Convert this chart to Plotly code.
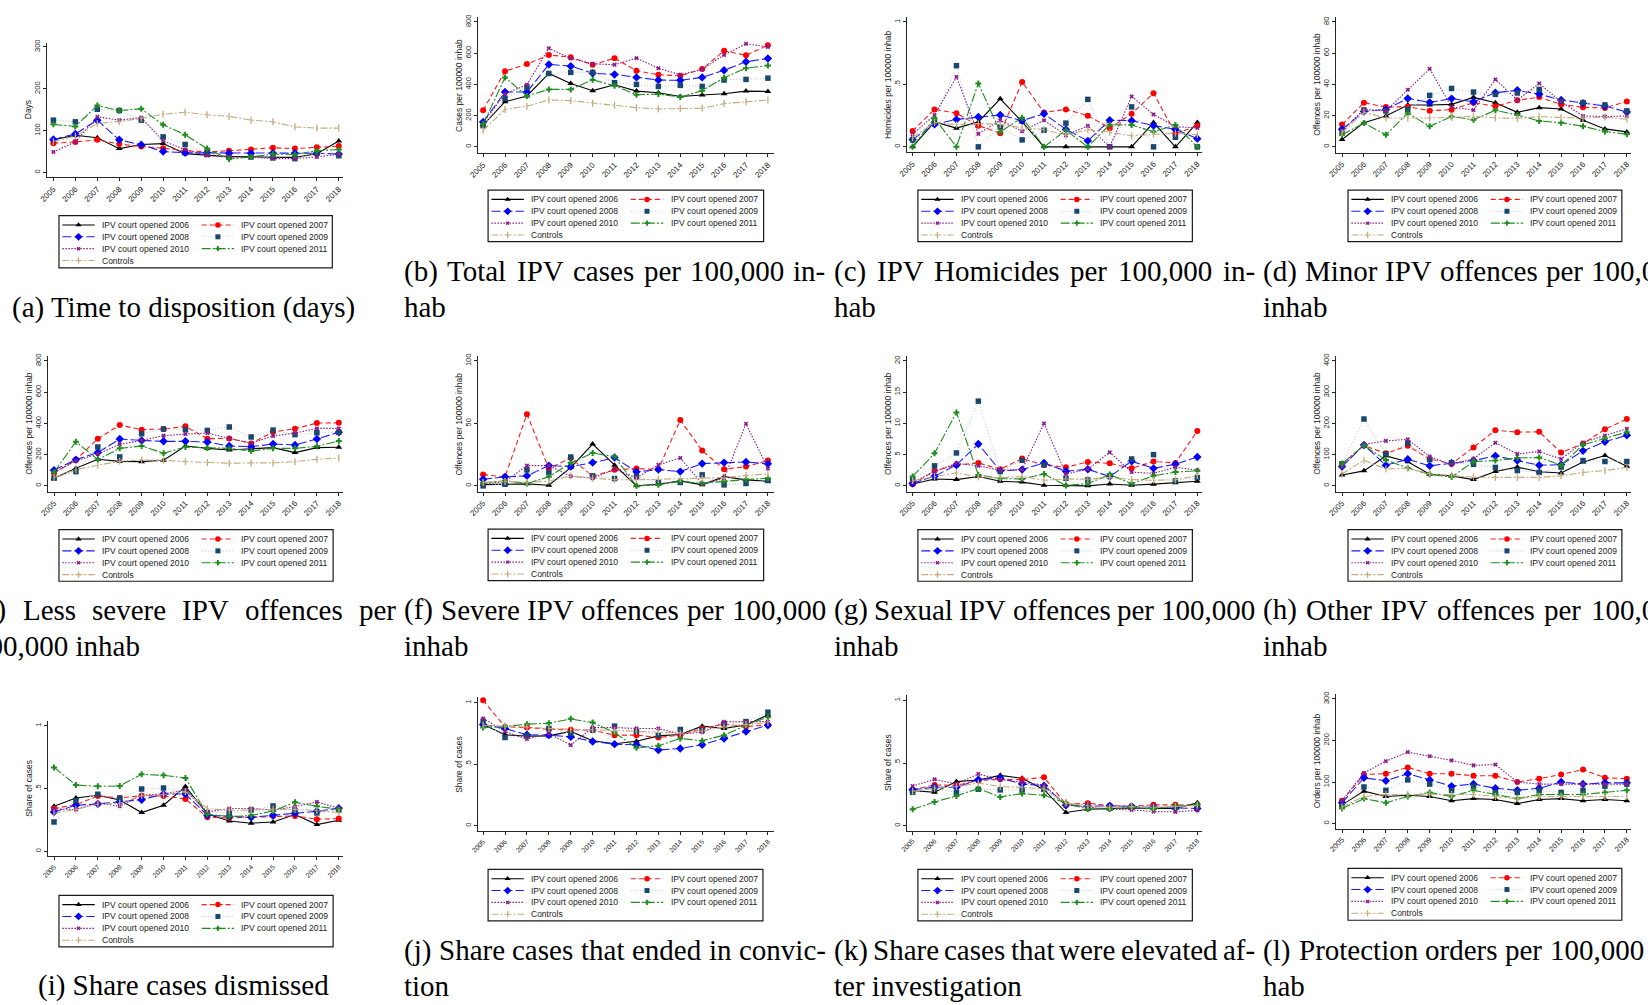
import plotly.graph_objects as go

W, H = 1648, 1005
XOFF = -8.0  # horizontal page offset correction

YEARS = list(range(2005, 2019))
YEAR_LABELS = [str(y) for y in YEARS]
SERIES = ["IPV court opened 2006", "IPV court opened 2007", "IPV court opened 2008",
          "IPV court opened 2009", "IPV court opened 2010", "IPV court opened 2011",
          "Controls"]

# (a) Time to disposition (days)
days_06 = [78, 89, 83, 57, 67, 69, 45, 41, 38, 38, 36, 36, 45, 75]
days_07 = [70, 73, 78, 68, 62, 58, 52, 49, 52, 55, 59, 57, 60, 63]
days_08 = [79, 92, 125, 78, 66, 50, 47, 47, 46, 46, 46, 46, 46, 44]
days_09 = [125, 121, 151, 148, 125, 85, 67, 46, 36, 37, 35, 33, 46, 40]
days_10 = [49, 73, 133, 125, 131, 75, 55, 40, 37, 37, 33, 33, 37, 44]
days_11 = [115, 110, 160, 148, 152, 114, 90, 57, 32, 37, 44, 43, 52, 55]
days_ctl = [74, 87, 117, 122, 129, 139, 144, 138, 134, 125, 121, 109, 106, 106]

# (b) Total IPV cases per 100,000 inhab
cases_06 = [140, 289, 326, 470, 406, 360, 398, 357, 347, 323, 332, 340, 357, 355]
cases_07 = [234, 485, 530, 589, 574, 526, 568, 487, 462, 455, 498, 615, 587, 651]
cases_08 = [160, 351, 351, 528, 517, 472, 464, 445, 428, 426, 445, 491, 545, 566]
cases_09 = [136, 311, 383, 470, 477, 477, 411, 400, 387, 394, 387, 428, 432, 440]
cases_10 = [155, 340, 398, 632, 566, 532, 526, 568, 504, 462, 496, 589, 660, 640]
cases_11 = [145, 445, 326, 368, 368, 430, 391, 334, 338, 319, 360, 443, 504, 521]
cases_ctl = [106, 240, 260, 300, 296, 279, 266, 251, 243, 245, 247, 277, 289, 300]

# (c) IPV homicides per 100,000 inhab
homic_06 = [0, .20, .15, .20, .385, .20, 0, 0, 0, 0, 0, .195, 0, .195]
homic_07 = [.128, .30, .27, .17, .11, .52, .275, .30, .25, .15, .265, .43, .105, .17]
homic_08 = [.06, .18, .22, .24, .255, .21, .265, .14, .048, .213, .21, .17, .14, .066]
homic_09 = [.056, .20, .65, 0, .16, .056, .133, .19, .38, 0, .32, 0, .077, 0]
homic_10 = [.10, .255, .56, .104, .213, .125, .213, .093, .168, 0, .404, .26, .162, .152]
homic_11 = [0, .23, 0, .508, .12, .234, 0, .133, 0, .178, .175, .122, .175, 0]
homic_ctl = [.075, .195, .178, .186, .18, .154, .138, .093, .138, .117, .088, .10, .11, .098]

# (d) Minor IPV offences per 100,000 inhab
minor_06 = [4.7, 15.5, 19.8, 26.8, 26.8, 27.2, 31.7, 28.3, 22.1, 25.1, 24.3, 17.0, 11.5, 9.6]
minor_07 = [14.3, 28.3, 25.5, 25.7, 23.2, 23.8, 28.3, 26.0, 29.8, 31.9, 27.2, 25.3, 24.9, 29.1]
minor_08 = [11.3, 22.6, 24.0, 31.0, 28.5, 30.9, 28.9, 34.7, 36.2, 33.8, 30.0, 27.9, 26.2, 22.3]
minor_09 = [9.1, 23.6, 23.0, 24.0, 33.0, 37.4, 35.1, 33.6, 34.5, 36.8, 29.1, 28.3, 26.8, 23.0]
minor_10 = [10.2, 24.0, 23.0, 36.6, 50.0, 25.5, 23.6, 43.2, 30.0, 40.6, 28.9, 19.8, 19.4, 19.8]
minor_11 = [7.7, 15.3, 7.7, 21.5, 13.2, 19.4, 17.4, 23.4, 20.4, 16.6, 15.5, 13.2, 9.8, 8.1]
minor_ctl = [9.1, 22.1, 18.5, 18.3, 18.5, 18.9, 19.6, 18.5, 18.3, 19.4, 18.7, 18.3, 19.1, 17.7]

# (e) Less severe IPV offences per 100,000 inhab
lesssev_06 = [49, 113, 170, 157, 155, 164, 255, 240, 230, 236, 245, 213, 245, 247]
lesssev_07 = [81, 166, 302, 389, 360, 364, 381, 302, 304, 272, 345, 366, 402, 404]
lesssev_08 = [100, 168, 213, 300, 291, 285, 285, 281, 255, 251, 268, 262, 300, 343]
lesssev_09 = [49, 91, 249, 185, 334, 364, 360, 355, 377, 313, 357, 328, 340, 343]
lesssev_10 = [87, 160, 204, 266, 291, 321, 332, 338, 304, 274, 319, 338, 368, 368]
lesssev_11 = [87, 283, 168, 240, 255, 209, 249, 243, 240, 223, 240, 240, 253, 287]
lesssev_ctl = [53, 104, 132, 157, 166, 164, 155, 149, 145, 147, 147, 155, 170, 179]

# (f) Severe IPV offences per 100,000 inhab
severe_06 = [1.0, 1.3, 1.6, 0.5, 14.6, 33.5, 16.5, 0, 1.3, 4.0, 0.8, 7.4, 4.8, 3.7]
severe_07 = [9.0, 7.2, 57.4, 13.8, 22.3, 7.7, 12.8, 13.8, 13.3, 52.7, 28.2, 13.3, 15.4, 20.2]
severe_08 = [5.3, 7.2, 8.0, 16.2, 15.4, 18.6, 22.6, 11.2, 13.0, 11.4, 17.8, 18.6, 19.1, 17.6]
severe_09 = [0, 1.3, 12.8, 10.6, 23.1, 8.0, 5.9, 7.4, 2.7, 2.7, 8.8, 0.8, 1.9, 4.3]
severe_10 = [1.3, 3.5, 16.2, 16.2, 7.7, 6.1, 13.3, 6.4, 16.8, 22.3, 1.6, 5.9, 49.7, 13.8]
severe_11 = [2.4, 4.0, 1.9, 7.2, 18.4, 26.3, 23.4, 0, 0.8, 3.7, 2.1, 3.7, 5.0, 6.1]
severe_ctl = [2.7, 3.5, 2.9, 3.7, 8.0, 6.1, 5.0, 4.8, 5.3, 5.9, 6.1, 6.6, 8.2, 9.6]

# (g) Sexual IPV offences per 100,000 inhab
sexual_06 = [0.3, 1.1, 1.0, 1.5, 0.74, 0.6, 0.1, 0.1, 0, 0.3, 0.1, 0.27, 0.5, 0.74]
sexual_07 = [0.27, 2.4, 3.35, 3.67, 2.66, 4.36, 3.35, 2.98, 3.83, 3.6, 2.8, 3.9, 3.67, 8.78]
sexual_08 = [0.43, 1.54, 3.35, 6.7, 2.4, 2.6, 3.67, 2.34, 2.66, 1.5, 3.94, 2.8, 3.46, 4.63]
sexual_09 = [0.96, 3.2, 5.27, 13.56, 2.3, 4.1, 3.35, 1.22, 0.96, 1.6, 4.3, 5.0, 0.8, 1.33]
sexual_10 = [0.53, 2.3, 3.6, 3.2, 2.5, 2.6, 10.0, 1.9, 2.66, 5.37, 2.2, 2.0, 3.0, 2.5]
sexual_11 = [1.5, 5.2, 11.75, 1.75, 1.17, 1.1, 1.9, 0.05, 0.37, 1.8, 0.37, 1.6, 2.2, 2.4]
sexual_ctl = [0.85, 1.5, 2.1, 1.4, 1.3, 1.5, 0.9, 1.1, 1.06, 1.33, 1.0, 0.9, 0.96, 1.65]

# (h) Other IPV offences per 100,000 inhab
other_06 = [35, 48, 96, 77, 37, 32, 20, 46, 60, 45, 41, 76, 97, 63]
other_07 = [71, 129, 104, 128, 86, 71, 123, 178, 172, 173, 107, 135, 181, 214]
other_08 = [62, 131, 66, 85, 64, 73, 81, 96, 81, 66, 68, 112, 141, 162]
other_09 = [70, 214, 102, 137, 84, 74, 69, 59, 49, 43, 60, 81, 78, 78]
other_10 = [60, 133, 144, 149, 94, 68, 87, 138, 102, 110, 86, 139, 161, 183]
other_11 = [71, 129, 83, 57, 37, 28, 78, 81, 89, 91, 66, 131, 152, 172]
other_ctl = [38, 82, 54, 56, 38, 34, 28, 27, 27, 27, 32, 43, 49, 59]

# (i) Share of cases dismissed
dismissed_06 = [.358, .424, .446, .408, .308, .366, .515, .297, .241, .223, .233, .292, .212, .247]
dismissed_07 = [.34, .371, .44, .424, .443, .44, .416, .27, .265, .27, .281, .281, .255, .26]
dismissed_08 = [.313, .366, .377, .395, .411, .456, .456, .286, .276, .27, .286, .302, .318, .342]
dismissed_09 = [.233, .403, .454, .424, .496, .504, .477, .308, .308, .329, .361, .324, .305, .329]
dismissed_10 = [.337, .332, .385, .358, .448, .456, .488, .313, .34, .34, .329, .355, .393, .342]
dismissed_11 = [.668, .528, .517, .52, .613, .605, .584, .294, .276, .284, .321, .39, .358, .334]
dismissed_ctl = [.302, .334, .374, .382, .443, .451, .475, .34, .326, .329, .334, .334, .324, .308]

# (j) Share of cases that ended in conviction
convicted_06 = [.822, .739, .728, .73, .766, .69, .666, .687, .73, .741, .809, .79, .819, .90]
convicted_07 = [1.019, .803, .798, .784, .779, .776, .736, .736, .717, .736, .79, .825, .806, .819]
convicted_08 = [.822, .79, .739, .736, .722, .685, .663, .658, .615, .628, .658, .709, .766, .817]
convicted_09 = [.849, .717, .73, .79, .749, .779, .809, .768, .733, .782, .776, .83, .846, .922]
convicted_10 = [.871, .766, .704, .749, .655, .798, .798, .79, .79, .744, .76, .844, .846, .846]
convicted_11 = [.798, .806, .825, .833, .868, .838, .757, .633, .65, .709, .69, .736, .814, .884]
convicted_ctl = [.817, .811, .801, .79, .782, .779, .774, .766, .763, .752, .768, .803, .822, .838]

# (k) Share of cases elevated after investigation
elevated_06 = [.28, .267, .352, .365, .402, .378, .288, .106, .132, .135, .143, .138, .138, .183]
elevated_07 = [.288, .325, .323, .36, .37, .368, .386, .172, .18, .161, .156, .167, .167, .161]
elevated_08 = [.288, .307, .307, .368, .381, .333, .32, .164, .156, .159, .153, .148, .143, .138]
elevated_09 = [.267, .296, .267, .291, .286, .286, .291, .169, .153, .148, .148, .148, .148, .159]
elevated_10 = [.317, .37, .333, .413, .368, .347, .325, .167, .148, .132, .127, .114, .111, .124]
elevated_11 = [.132, .19, .238, .296, .23, .257, .243, .183, .132, .135, .148, .135, .159, .169]
elevated_ctl = [.275, .299, .312, .341, .312, .307, .294, .183, .159, .148, .153, .148, .153, .164]

# (l) Protection orders per 100,000 inhab
orders_06 = [45, 78, 65, 68, 65, 55, 60, 58, 48, 58, 60, 55, 58, 55]
orders_07 = [55, 118, 120, 135, 120, 120, 115, 115, 100, 108, 118, 130, 110, 108]
orders_08 = [50, 110, 103, 120, 105, 90, 95, 85, 80, 85, 100, 95, 98, 98]
orders_09 = [42, 88, 80, 105, 95, 80, 90, 75, 75, 80, 75, 80, 90, 95]
orders_10 = [55, 122, 150, 172, 162, 152, 140, 142, 100, 95, 95, 95, 95, 95]
orders_11 = [36, 60, 50, 65, 75, 65, 80, 70, 60, 70, 70, 70, 75, 80]
orders_ctl = [40, 65, 70, 70, 70, 70, 70, 65, 60, 65, 65, 65, 65, 65]

# Line / marker style of each series (same order as SERIES)
STYLES = [
    dict(line="#000000", mark="#000000", dash="solid", symbol="triangle-up", size=6),
    dict(line="#ff1a1a", mark="#ff0000", dash="5px,3px", symbol="circle", size=6),
    dict(line="#1a1aff", mark="#0000ff", dash="9px,3px", symbol="diamond", size=6.5),
    dict(line="#bccbe0", mark="#1a476f", dash="1px,2px", symbol="square", size=5.5),
    dict(line="#8b1a8b", mark="#8b1a8b", dash="1.5px,1.5px", symbol="x", size=4),
    dict(line="#1e8c1e", mark="#1e8c1e", dash="9px,2px,2px,2px", symbol="cross", size=5),
    dict(line="#c4ab7c", mark="#c4ab7c", dash="7px,2px,2px,2px", symbol="line-ns", size=5),
]

HALF = [0, .5, 1]
HALF_TXT = ["0", ".5", "1"]

# Panel definitions: data, axis title, ticks, caption lines, and pixel geometry
# geometry: y-axis x, 2005 x, 2018 x, right end, axis top, top-tick y, zero y, x-axis y
# legend box: x0, y0, x1, y1
PANELS = [
    dict(data=[days_06, days_07, days_08, days_09, days_10, days_11, days_ctl],
         ytitle="Days", yt=[0, 100, 200, 300], ytt=None, ymax=300,
         geo=(45.7, 51.7, 339, 343, 40, 44, 170, 175), leg=(57.3, 213.3, 332.5, 265.7),
         col=0, row=0, cap=["(a) Time to disposition (days)"], xfs=8),
    dict(data=[cases_06, cases_07, cases_08, cases_09, cases_10, cases_11, cases_ctl],
         ytitle="Cases per 100000 inhab", yt=[0, 200, 400, 600, 800], ytt=None, ymax=800,
         geo=(479.3, 484.3, 771, 776.7, 14, 19, 144.3, 150.7), leg=(489.3, 187.7, 766.7, 239.3),
         col=1, row=0, cap=["(b) Total IPV cases per 100,000 in-", "hab"], xfs=8),
    dict(data=[homic_06, homic_07, homic_08, homic_09, homic_10, homic_11, homic_ctl],
         ytitle="Homicides per 100000 inhab", yt=HALF, ytt=HALF_TXT, ymax=1,
         geo=(910.7, 916.7, 1203.3, 1208.3, 14, 19, 144.3, 149.7), leg=(922, 187.7, 1198.3, 239.3),
         col=2, row=0, cap=["(c) IPV Homicides per 100,000 in-", "hab"], xfs=8),
    dict(data=[minor_06, minor_07, minor_08, minor_09, minor_10, minor_11, minor_ctl],
         ytitle="Offences per 100000 inhab", yt=[0, 20, 40, 60, 80], ytt=None, ymax=80,
         geo=(1343.3, 1349, 1635.7, 1640, 14, 19, 144.3, 150), leg=(1355, 187.7, 1630.7, 239.3),
         col=3, row=0, cap=["(d) Minor IPV offences per 100,000", "inhab"], xfs=8),
    dict(data=[lesssev_06, lesssev_07, lesssev_08, lesssev_09, lesssev_10, lesssev_11, lesssev_ctl],
         ytitle="Offences per 100000 inhab", yt=[0, 200, 400, 600, 800], ytt=None, ymax=800,
         geo=(46.7, 52.3, 339, 343, 354, 359, 484.3, 490), leg=(57.3, 528.3, 333.3, 580),
         col=0, row=1, cap=["(e) Less severe IPV offences per", "100,000 inhab"], xfs=8),
    dict(data=[severe_06, severe_07, severe_08, severe_09, severe_10, severe_11, severe_ctl],
         ytitle="Offences per 100000 inhab", yt=[0, 50, 100], ytt=None, ymax=100,
         geo=(479.3, 484.3, 771, 776.7, 354, 359, 484.3, 490), leg=(489.3, 527.7, 766.7, 579.3),
         col=1, row=1, cap=["(f) Severe IPV offences per 100,000", "inhab"], xfs=8),
    dict(data=[sexual_06, sexual_07, sexual_08, sexual_09, sexual_10, sexual_11, sexual_ctl],
         ytitle="Offences per 100000 inhab", yt=[0, 5, 10, 15, 20], ytt=None, ymax=20,
         geo=(910.7, 916.7, 1203.3, 1208.3, 354, 359, 484.3, 490), leg=(922, 528.3, 1198.3, 580),
         col=2, row=1, cap=["(g) Sexual IPV offences per 100,000", "inhab"], xfs=8),
    dict(data=[other_06, other_07, other_08, other_09, other_10, other_11, other_ctl],
         ytitle="Offences per 100000 inhab", yt=[0, 100, 200, 300, 400], ytt=None, ymax=400,
         geo=(1343.3, 1349, 1635.7, 1640, 354, 359, 484.3, 490), leg=(1355, 528.3, 1630.7, 580),
         col=3, row=1, cap=["(h) Other IPV offences per 100,000", "inhab"], xfs=8),
    dict(data=[dismissed_06, dismissed_07, dismissed_08, dismissed_09, dismissed_10, dismissed_11, dismissed_ctl],
         ytitle="Share of cases", yt=HALF, ytt=HALF_TXT, ymax=1,
         geo=(46.7, 52.3, 339, 343, 720, 725, 850.7, 856), leg=(57.3, 895, 333.3, 946.7),
         col=0, row=2, cap=["(i) Share cases dismissed"], xfs=6.8),
    dict(data=[convicted_06, convicted_07, convicted_08, convicted_09, convicted_10, convicted_11, convicted_ctl],
         ytitle="Share of cases", yt=HALF, ytt=HALF_TXT, ymax=1,
         geo=(479.3, 484.3, 771, 776.7, 696, 701.7, 825.3, 830.7), leg=(489.3, 869, 766, 920.7),
         col=1, row=2, cap=["(j) Share cases that ended in convic-", "tion"], xfs=6.8),
    dict(data=[elevated_06, elevated_07, elevated_08, elevated_09, elevated_10, elevated_11, elevated_ctl],
         ytitle="Share of cases", yt=HALF, ytt=HALF_TXT, ymax=1,
         geo=(910.7, 916.7, 1203.3, 1208.3, 694, 699.3, 825.3, 830), leg=(922, 869, 1198.3, 920.7),
         col=2, row=2, cap=["(k) Share cases that were elevated af-", "ter investigation"], xfs=6.8),
    dict(data=[orders_06, orders_07, orders_08, orders_09, orders_10, orders_11, orders_ctl],
         ytitle="Orders per 100000 inhab", yt=[0, 100, 200, 300], ytt=None, ymax=300,
         geo=(1343.3, 1349, 1635.7, 1640, 693, 698, 823, 828), leg=(1355, 868, 1630.7, 920),
         col=3, row=2, cap=["(l) Protection orders per 100,000 in-", "hab"], xfs=7.5),
]

# Caption layout (subfigure columns and text line centres)
COL_LEFT = [-28.9, 403.6, 836.1, 1268.6]
COL_W = 424.0
CAP_Y = [(269.3, 305.0), (608.7, 644.6), (950.0, 985.8)]
CAP_SIZE = 29
SERIF = "Liberation Serif"
SANS = "Liberation Sans"

# Advance widths of Times / Liberation Serif glyphs (1/1000 em) for justified lines
TIMES_W = {" ": 250, "(": 333, ")": 333, ",": 250, "-": 333, ".": 250,
           "H": 722, "I": 333, "L": 611, "M": 889, "O": 722, "P": 556, "S": 556,
           "T": 611, "V": 722,
           "a": 444, "b": 500, "c": 444, "d": 500, "e": 444, "f": 333, "g": 500,
           "h": 500, "i": 278, "j": 278, "k": 500, "l": 278, "m": 778, "n": 500,
           "o": 500, "p": 500, "q": 500, "r": 333, "s": 389, "t": 278, "u": 500,
           "v": 500, "w": 722, "x": 500, "y": 500, "z": 444}


def text_width(s, size):
    return sum(TIMES_W.get(ch, 500) for ch in s) * size / 1000.0


def px(x):
    return (x + XOFF) / W


def py(y):
    return 1 - y / H


fig = go.Figure()
annotations = []
shapes = []
layout_axes = {}

for i, p in enumerate(PANELS):
    n = i + 1
    sfx = "" if n == 1 else str(n)
    xl, x05, x18, xr, yt, ytop, y0, yb = p["geo"]
    ppy = (x18 - x05) / 13.0
    xrng = [2005 - (x05 - xl) / ppy, 2018 + (xr - x18) / ppy]
    ppv = (y0 - ytop) / p["ymax"]
    yrng = [-(yb - y0) / ppv, p["ymax"] + (ytop - yt) / ppv]

    for k, vals in enumerate(p["data"]):
        st = STYLES[k]
        mline = dict(width=1.3, color=st["mark"]) if st["symbol"] == "line-ns" else dict(width=0)
        fig.add_trace(go.Scatter(
            x=YEARS, y=vals, mode="lines+markers", name=SERIES[k], showlegend=False,
            line=dict(color=st["line"], width=1.1, dash=st["dash"]),
            marker=dict(symbol=st["symbol"], size=st["size"], color=st["mark"], line=mline),
            xaxis="x" + sfx, yaxis="y" + sfx, cliponaxis=False, hoverinfo="skip"))

    axis_common = dict(showline=True, linecolor="#262626", linewidth=1, ticks="outside",
                       ticklen=3, tickwidth=1, tickcolor="#262626", showgrid=False,
                       zeroline=False, fixedrange=True)
    layout_axes["xaxis" + sfx] = dict(
        domain=[px(xl), px(xr)], range=xrng, anchor="y" + sfx,
        tickvals=YEARS, ticktext=YEAR_LABELS, tickangle=-45,
        tickfont=dict(family=SANS, size=p["xfs"], color="#222222"), **axis_common)
    ydict = dict(domain=[py(yb), py(yt)], range=yrng, anchor="x" + sfx,
                 tickvals=p["yt"], tickangle=-90,
                 tickfont=dict(family=SANS, size=7.5, color="#222222"), **axis_common)
    if p["ytt"] is not None:
        ydict["ticktext"] = p["ytt"]
    layout_axes["yaxis" + sfx] = ydict

    # y-axis title
    annotations.append(dict(
        x=px(xl - 19.5), y=py((yt + yb) / 2), xref="paper", yref="paper",
        text=p["ytitle"], textangle=-90, showarrow=False,
        font=dict(family=SANS, size=8.5, color="#222222"),
        xanchor="center", yanchor="middle"))

    # legend box
    bx0, by0, bx1, by1 = p["leg"]
    shapes.append(dict(type="rect", xref="paper", yref="paper",
                       x0=px(bx0), x1=px(bx1), y0=py(by1), y1=py(by0),
                       line=dict(color="#1a1a1a", width=1.2), fillcolor="rgba(0,0,0,0)"))
    for k in range(7):
        r, c = divmod(k, 2)
        ry = by0 + 9.3 + 11.9 * r
        lx0 = bx0 + (3.4 if c == 0 else 143.7)
        st = STYLES[k]
        fig.add_trace(go.Scatter(
            x=[lx0, lx0 + 32.6], y=[ry, ry], mode="lines", showlegend=False,
            line=dict(color=st["line"], width=1.1, dash=st["dash"]),
            xaxis="x13", yaxis="y13", hoverinfo="skip"))
        mline = dict(width=1.3, color=st["mark"]) if st["symbol"] == "line-ns" else dict(width=0)
        fig.add_trace(go.Scatter(
            x=[lx0 + 16.3], y=[ry], mode="markers", showlegend=False,
            marker=dict(symbol=st["symbol"], size=st["size"] - 0.5, color=st["mark"], line=mline),
            xaxis="x13", yaxis="y13", hoverinfo="skip"))
        annotations.append(dict(
            x=px(lx0 + 38.0), y=py(ry), xref="paper", yref="paper", text=SERIES[k],
            showarrow=False, xanchor="left", yanchor="middle",
            font=dict(family=SANS, size=8.5, color="#1a1a1a")))

    # caption (LaTeX-style subcaption, first line justified)
    cl = COL_LEFT[p["col"]]
    yl1, yl2 = CAP_Y[p["row"]]
    cap_font = dict(family=SERIF, size=CAP_SIZE, color="#000000")
    if len(p["cap"]) == 1:
        annotations.append(dict(
            x=px(cl + COL_W / 2), y=py(yl2), xref="paper", yref="paper", text=p["cap"][0],
            showarrow=False, xanchor="center", yanchor="middle", font=cap_font))
    else:
        words = p["cap"][0].split(" ")
        widths = [text_width(w, CAP_SIZE) for w in words]
        gap = (COL_W - sum(widths)) / (len(words) - 1)
        xpos = cl
        for w, wd in zip(words, widths):
            annotations.append(dict(
                x=px(xpos), y=py(yl1), xref="paper", yref="paper", text=w,
                showarrow=False, xanchor="left", yanchor="middle", font=cap_font,
                borderpad=0))
            xpos += wd + gap
        annotations.append(dict(
            x=px(cl), y=py(yl2), xref="paper", yref="paper", text=p["cap"][1],
            showarrow=False, xanchor="left", yanchor="middle", font=cap_font,
            borderpad=0))

# pixel-space overlay used for legend keys
layout_axes["xaxis13"] = dict(domain=[0, 1], range=[-XOFF, W - XOFF], visible=False,
                              fixedrange=True, anchor="y13")
layout_axes["yaxis13"] = dict(domain=[0, 1], range=[H, 0], visible=False, fixedrange=True,
                              anchor="x13")

fig.update_layout(
    width=W, height=H, margin=dict(l=0, r=0, t=0, b=0),
    paper_bgcolor="white", plot_bgcolor="rgba(0,0,0,0)",
    showlegend=False, annotations=annotations, shapes=shapes, **layout_axes)

fig.write_html("out.html")
